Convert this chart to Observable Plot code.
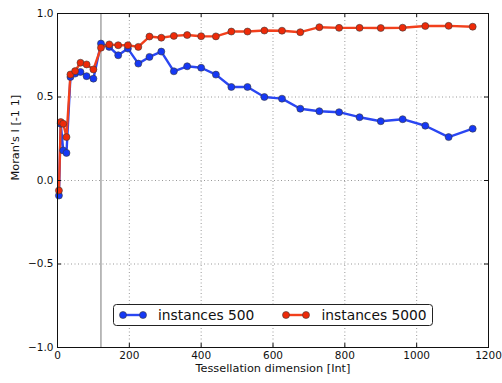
<!DOCTYPE html>
<html><head><meta charset="utf-8">
<script src="https://cdn.jsdelivr.net/npm/d3@7"></script>
<script src="https://cdn.jsdelivr.net/npm/@observablehq/plot@0.6"></script>
<style>
body{margin:0;background:#fff;}
#wrap{position:relative;width:502px;height:383px;}
#legend{position:absolute;left:113px;top:304px;}
</style></head>
<body><div id="wrap"></div>
<script>
const dims = [4,9,16,25,36,49,64,81,100,121,144,169,196,225,256,289,324,361,400,441,484,529,576,625,676,729,784,841,900,961,1024,1089,1156];
const inst500 = [-0.09,0.34,0.18,0.165,0.62,0.64,0.65,0.625,0.61,0.82,0.80,0.75,0.79,0.70,0.74,0.772,0.654,0.684,0.675,0.634,0.56,0.56,0.50,0.49,0.43,0.415,0.409,0.379,0.355,0.367,0.328,0.26,0.31];
const inst5000 = [-0.06,0.35,0.34,0.26,0.635,0.655,0.705,0.695,0.665,0.795,0.815,0.81,0.81,0.80,0.862,0.855,0.866,0.871,0.864,0.863,0.892,0.892,0.898,0.897,0.888,0.918,0.914,0.914,0.913,0.915,0.925,0.926,0.921];
const seriesNames = ["instances 500","instances 5000"];
const lineColors = ["#2a46f2","#f2401c"];
const dotColors = ["#1538f5","#ee2a08"];
const xTicks = [0,200,400,600,800,1000,1200];
const xTickLabels = ["0","200","400","600","800","1000","1200"];
const yTicks = [-1,-0.5,0,0.5,1];
const yTickLabels = ["\u22121.0","\u22120.5","0.0","0.5","1.0"];
const cutoff = [121];
const xLabel = "Tessellation dimension [Int]";
const yLabel = "Moran's I [-1 1]";

const series = [inst500, inst5000].map((vals, k) => dims.map((d, i) => ({x: d, y: vals[i], s: seriesNames[k]})));

const W = 502, H = 383, mL = 57, mR = 14, mT = 13, mB = 36;
const innerW = W - mL - mR, innerH = H - mT - mB;
const tick = 4;

const marks = [
  Plot.gridX(xTicks, {stroke: "#999", strokeOpacity: 1, strokeDasharray: "1,2.5"}),
  Plot.gridY(yTicks, {stroke: "#999", strokeOpacity: 1, strokeDasharray: "1,2.5"}),
  Plot.ruleX(cutoff, {stroke: "#777", strokeWidth: 1}),
];
series.forEach((rows, k) => {
  marks.push(Plot.line(rows, {x: "x", y: "y", stroke: lineColors[k], strokeWidth: 2.4}));
});
series.forEach((rows, k) => {
  marks.push(Plot.dot(rows, {x: "x", y: "y", fill: dotColors[k], stroke: "#3a3a3a", strokeWidth: 0.6, r: 3.5}));
});
marks.push(
  Plot.tickX(xTicks, {x: d => d, insetTop: innerH - tick, stroke: "#111"}),
  Plot.tickX(xTicks, {x: d => d, insetBottom: innerH - tick, stroke: "#111"}),
  Plot.tickY(yTicks, {y: d => d, insetRight: innerW - tick, stroke: "#111"}),
  Plot.tickY(yTicks, {y: d => d, insetLeft: innerW - tick, stroke: "#111"}),
  Plot.frame({stroke: "#111", strokeWidth: 1}),
  Plot.axisX(xTicks, {tickSize: 0, tickPadding: 4, tickFormat: (d, i) => xTickLabels[xTicks.indexOf(d)], label: null, fill: "#111"}),
  Plot.axisY(yTicks, {tickSize: 0, tickPadding: 4, tickFormat: (d, i) => yTickLabels[yTicks.indexOf(d)], label: null, fill: "#111"}),
  Plot.text([xLabel], {frameAnchor: "bottom", dy: 24, fontSize: 11.3, fill: "#111"}),
  Plot.text([yLabel], {frameAnchor: "left", dx: -42, rotate: -90, fontSize: 11.3, fill: "#111"})
);

const chart = Plot.plot({
  width: W, height: H,
  marginLeft: mL, marginRight: mR, marginTop: mT, marginBottom: mB,
  x: {domain: [0, 1200]},
  y: {domain: [-1, 1]},
  style: {fontFamily: "DejaVu Sans", fontSize: "10.5px", background: "#fff", color: "#111"},
  marks
});
const wrap = document.getElementById("wrap");
wrap.appendChild(chart);

// legend overlay (inside the axes, as in the reference)
const ns = "http://www.w3.org/2000/svg";
const lg = document.createElementNS(ns, "svg");
lg.setAttribute("id", "legend");
lg.setAttribute("width", 321);
lg.setAttribute("height", 23);
const mk = (tag, attrs, txt) => {
  const e = document.createElementNS(ns, tag);
  for (const k in attrs) e.setAttribute(k, attrs[k]);
  if (txt) e.textContent = txt;
  lg.appendChild(e);
  return e;
};
mk("rect", {x: 0.5, y: 0.5, width: 319, height: 21, rx: 3, fill: "#fff", stroke: "#222", "stroke-width": 1});
const swX = [10, 173], txX = [45, 208.5];
seriesNames.forEach((name, k) => {
  mk("line", {x1: swX[k], x2: swX[k] + 20, y1: 11, y2: 11, stroke: lineColors[k], "stroke-width": 2.4});
  mk("circle", {cx: swX[k], cy: 11, r: 3.5, fill: dotColors[k], stroke: "#3a3a3a", "stroke-width": 0.6});
  mk("circle", {cx: swX[k] + 20, cy: 11, r: 3.5, fill: dotColors[k], stroke: "#3a3a3a", "stroke-width": 0.6});
  mk("text", {x: txX[k], y: 11, "dominant-baseline": "central", "font-family": "DejaVu Sans", "font-size": 13.8, fill: "#111"}, name);
});
wrap.appendChild(lg);
</script>
</body></html>
